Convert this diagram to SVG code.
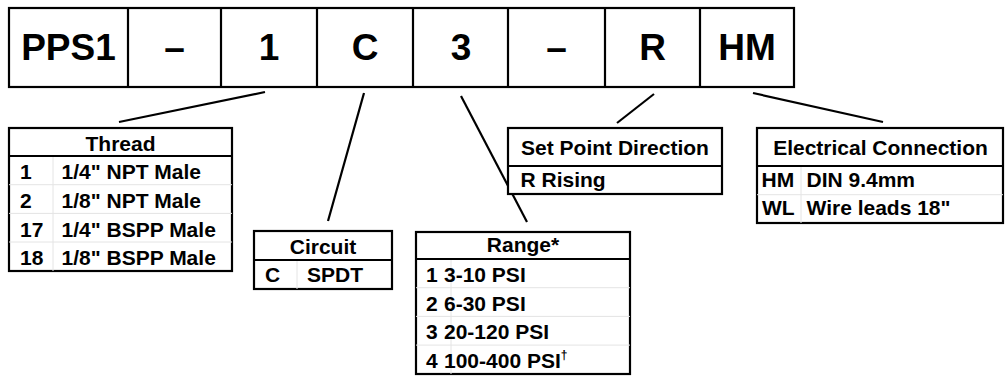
<svg xmlns="http://www.w3.org/2000/svg" width="1005" height="379" viewBox="0 0 1005 379">
<style>
text{font-family:"Liberation Sans",Arial,Helvetica,sans-serif;font-weight:bold;fill:#000}
.big{font-size:37px;text-anchor:middle}
.t{font-size:21px}
.h{font-size:21px;text-anchor:middle}
.box{fill:#fff;stroke:#000;stroke-width:2.2}
.ln{stroke:#000;stroke-width:2.2;fill:none}
.faint{stroke:#e4e4e4;stroke-width:1;fill:none}
.conn line{stroke:#000;stroke-width:2.2}
</style>
<rect width="1005" height="379" fill="#fff"/>
<g id="code">
<rect class="box" x="9" y="8" width="785" height="79"/>
<path class="ln" d="M128 8V87M221 8V87M317 8V87M413 8V87M508 8V87M605 8V87M700 8V87"/>
<text class="big" x="68.5" y="60">PPS1</text>
<text class="big" x="174.5" y="60">–</text>
<text class="big" x="269" y="60">1</text>
<text class="big" x="365" y="60">C</text>
<text class="big" x="461" y="60">3</text>
<text class="big" x="556.5" y="60">–</text>
<text class="big" x="652.5" y="60">R</text>
<text class="big" x="747" y="60">HM</text>
</g>
<g class="conn" id="connectors">
<line x1="265" y1="92" x2="119" y2="122"/>
<line x1="364" y1="93" x2="328" y2="221"/>
<line x1="461" y1="96" x2="527" y2="222"/>
<line x1="654" y1="94" x2="617" y2="123"/>
<line x1="753" y1="93" x2="883" y2="122"/>
</g>
<g id="thread">
<rect class="box" x="9" y="128" width="223" height="143"/>
<path class="faint" d="M53 156V271M9 184.7H232M9 213.4H232M9 242H232"/>
<line class="ln" x1="9" y1="156" x2="232" y2="156"/>
<text class="h" x="120.5" y="150.5">Thread</text>
<text class="t" x="20" y="179">1</text><text class="t" x="61.5" y="179">1/4" NPT Male</text>
<text class="t" x="20" y="207.7">2</text><text class="t" x="61.5" y="207.7">1/8" NPT Male</text>
<text class="t" x="20" y="236.5">17</text><text class="t" x="61.5" y="236.5">1/4" BSPP Male</text>
<text class="t" x="20" y="265">18</text><text class="t" x="61.5" y="265">1/8" BSPP Male</text>
</g>
<g id="circuit">
<rect class="box" x="254" y="231" width="138" height="58"/>
<path class="faint" d="M297 260V289"/>
<line class="ln" x1="254" y1="260" x2="392" y2="260"/>
<text class="h" x="323" y="254">Circuit</text>
<text class="t" x="265" y="282">C</text><text class="t" x="307" y="282">SPDT</text>
</g>
<g id="range">
<rect class="box" x="416" y="232" width="214" height="142"/>
<path class="faint" d="M451 259V374M416 287.7H630M416 316.4H630M416 345.1H630"/>
<line class="ln" x1="416" y1="259" x2="630" y2="259"/>
<text class="h" x="523" y="252">Range*</text>
<text class="t" x="426" y="282">1</text><text class="t" x="444" y="282">3-10 PSI</text>
<text class="t" x="426" y="310.5">2</text><text class="t" x="444" y="310.5">6-30 PSI</text>
<text class="t" x="426" y="339">3</text><text class="t" x="444" y="339">20-120 PSI</text>
<text class="t" x="426" y="367.5">4</text><text class="t" x="444" y="367.5">100-400 PSI<tspan font-size="12" dy="-9">†</tspan></text>
</g>
<g id="setpoint">
<rect class="box" x="508" y="128" width="214" height="66"/>
<line class="ln" x1="508" y1="166" x2="722" y2="166"/>
<text class="h" x="615" y="155">Set Point Direction</text>
<text class="t" x="520.5" y="187">R</text><text class="t" x="541.5" y="187">Rising</text>
</g>
<g id="electrical">
<rect class="box" x="757" y="128" width="246" height="95"/>
<path class="faint" d="M801 166V223M757 194.7H1003"/>
<line class="ln" x1="757" y1="166" x2="1003" y2="166"/>
<text class="h" x="880.5" y="154.5">Electrical Connection</text>
<text class="t" x="761.5" y="187">HM</text><text class="t" x="806.5" y="187">DIN 9.4mm</text>
<text class="t" x="762" y="215">WL</text><text class="t" x="806.5" y="215">Wire leads 18"</text>
</g>
</svg>
